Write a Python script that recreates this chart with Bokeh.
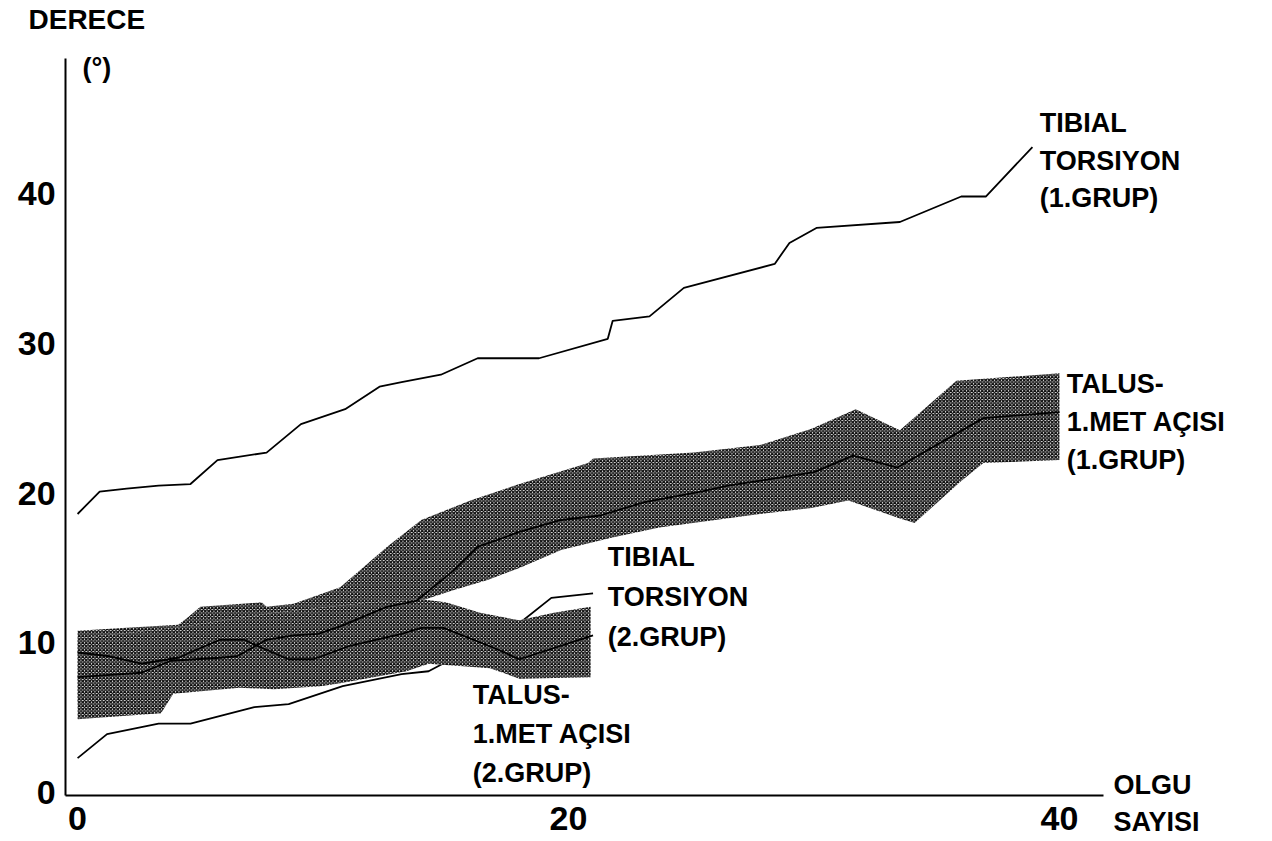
from bokeh.plotting import figure
from bokeh.models import Range1d, FixedTicker, Label
from bokeh.embed import file_html
from bokeh.resources import INLINE

# ---- data ----
# Tibial torsiyon, 1. grup
tt1_x = [0.0, 0.9, 2.0, 3.3, 4.6, 5.7, 7.7, 9.1, 10.9, 12.3, 13.2, 14.8, 16.3, 18.8,
         21.6, 21.8, 23.3, 24.7, 28.4, 29.0, 30.1, 33.5, 36.0, 37.0, 38.9]
tt1_y = [18.6, 20.1, 20.3, 20.5, 20.6, 22.2, 22.7, 24.6, 25.6, 27.1, 27.4, 27.9, 29.0, 29.0,
         30.3, 31.5, 31.8, 33.7, 35.3, 36.7, 37.7, 38.1, 39.8, 39.8, 43.1]

# Tibial torsiyon, 2. grup
tt2_x = [0.0, 1.2, 3.3, 4.6, 7.2, 8.6, 10.8, 13.2, 14.3, 18.0, 19.3, 21.0]
tt2_y = [2.3, 3.9, 4.6, 4.6, 5.7, 5.9, 7.1, 7.9, 8.1, 11.3, 13.0, 13.3]

# Talus-1.met acisi, 1. grup (mean and band)
ta1_x = [0.0, 2.6, 3.8, 5.8, 6.5, 7.7, 8.8, 9.8, 10.7, 12.6, 13.8, 15.3, 16.3, 18.0,
         19.7, 21.3, 23.1, 25.4, 26.5, 28.1, 30.0, 31.6, 33.4, 36.9, 40.0]
ta1_y = [7.7, 8.0, 8.8, 9.0, 9.1, 10.2, 10.5, 10.6, 11.1, 12.4, 12.8, 14.8, 16.4, 17.4,
         18.2, 18.5, 19.4, 20.1, 20.5, 20.9, 21.4, 22.5, 21.7, 25.0, 25.4]
ta1_hi_x = [0.0, 2.0, 4.1, 4.5, 5.0, 7.5, 7.7, 8.8, 10.7, 12.6, 14.0, 16.0, 18.0, 20.8,
            21.0, 25.1, 27.8, 29.9, 31.7, 33.5, 35.8, 40.0]
ta1_hi_y = [10.8, 11.0, 11.2, 11.7, 12.4, 12.7, 12.4, 12.6, 13.7, 16.4, 18.2, 19.5, 20.6, 22.0,
            22.3, 22.7, 23.2, 24.3, 25.6, 24.2, 27.5, 28.0]
ta1_lo_x = [0.0, 4.0, 8.0, 12.0, 14.0, 15.3, 16.7, 18.0, 19.7, 21.7, 23.7, 27.8, 29.9,
            31.4, 33.5, 34.1, 36.0, 36.9, 40.0]
ta1_lo_y = [6.0, 7.5, 9.5, 11.8, 12.8, 13.5, 14.2, 15.0, 16.2, 17.0, 17.7, 18.6, 19.0,
            19.5, 18.3, 18.0, 20.8, 22.0, 22.2]

# Talus-1.met acisi, 2. grup (mean and band)
ta2_x = [0.0, 1.3, 2.6, 4.1, 5.8, 6.8, 7.3, 8.6, 9.6, 11.1, 13.2, 14.0, 14.9, 16.9, 18.0, 21.0]
ta2_y = [9.35, 9.1, 8.6, 9.0, 10.2, 10.2, 9.8, 8.9, 8.9, 9.8, 10.6, 11.0, 11.0, 9.7, 8.9, 10.5]
ta2_hi_x = [0.0, 4.0, 8.0, 12.0, 14.0, 15.0, 16.4, 18.0, 19.4, 20.9]
ta2_hi_y = [10.3, 11.0, 12.0, 12.7, 12.9, 12.7, 12.0, 11.5, 12.0, 12.4]
ta2_lo_x = [0.0, 3.4, 3.9, 6.6, 8.0, 9.9, 10.7, 13.4, 14.3, 16.8, 18.0, 20.9]
ta2_lo_y = [4.9, 5.3, 6.6, 7.0, 6.9, 7.1, 7.3, 8.1, 8.6, 8.3, 7.6, 7.7]

x_ticks = [0, 20, 40]
y_ticks = [0, 10, 20, 30, 40]

# series labels (text lines)
lab_tt1 = ["TIBIAL", "TORSIYON", "(1.GRUP)"]
lab_ta1 = ["TALUS-", "1.MET AÇISI", "(1.GRUP)"]
lab_tt2 = ["TIBIAL", "TORSIYON", "(2.GRUP)"]
lab_ta2 = ["TALUS-", "1.MET AÇISI", "(2.GRUP)"]
x_title = ["OLGU", "SAYISI"]
y_title = "DERECE"
y_unit = "(°)"

# axis extents (data units)
X_AX = (-0.49, 41.79)
Y_AX = (-0.2, 49.0)

# ---- figure ----
FONT = "Liberation Sans"
p = figure(width=1272, height=841,
           x_range=Range1d(-3.14, 48.68), y_range=Range1d(-3.27, 52.89),
           output_backend="svg", toolbar_location=None,
           min_border_left=0, min_border_right=0,
           min_border_top=0, min_border_bottom=0)
p.xgrid.visible = False
p.ygrid.visible = False
p.outline_line_color = None
p.background_fill_color = "white"
p.border_fill_color = "white"

for ax in (p.xaxis[0], p.yaxis[0]):
    ax.axis_line_width = 2
    ax.axis_line_color = "black"
    ax.major_tick_in = 0
    ax.major_tick_out = 0
    ax.minor_tick_in = 0
    ax.minor_tick_out = 0
    ax.major_label_text_font = FONT
    ax.major_label_text_font_style = "bold"
    ax.major_label_text_font_size = "34px"
    ax.major_label_text_color = "black"
p.xaxis[0].ticker = FixedTicker(ticks=x_ticks)
p.yaxis[0].ticker = FixedTicker(ticks=y_ticks)
p.xaxis[0].bounds = X_AX
p.yaxis[0].bounds = Y_AX
p.xaxis[0].fixed_location = Y_AX[0]
p.yaxis[0].fixed_location = X_AX[0]
p.xaxis[0].major_label_standoff = 11
p.yaxis[0].major_label_standoff = 10

band_style = dict(fill_color="white", line_alpha=0, hatch_pattern="x",
                  hatch_color="#0d0d0d", hatch_scale=3.5, hatch_weight=1.4)

# tibial torsion group 2 passes beneath the shaded bands
p.line(tt2_x, tt2_y, line_color="black", line_width=1.8)

p.patch(ta1_hi_x + ta1_lo_x[::-1], ta1_hi_y + ta1_lo_y[::-1], **band_style)
p.patch(ta2_hi_x + ta2_lo_x[::-1], ta2_hi_y + ta2_lo_y[::-1], **band_style)

p.line(ta1_x, ta1_y, line_color="black", line_width=1.8)
p.line(ta2_x, ta2_y, line_color="black", line_width=1.8)
p.line(tt1_x, tt1_y, line_color="black", line_width=1.8)


def add_lines(lines, x, y0, step, size="27px"):
    for i, t in enumerate(lines):
        p.add_layout(Label(x=x, y=y0 - i * step, text=t, text_font=FONT,
                           text_font_style="bold", text_font_size=size,
                           text_color="black", text_align="left",
                           text_baseline="middle"))


add_lines(lab_tt1, 39.2, 44.7, 2.5)
add_lines(lab_ta1, 40.3, 27.3, 2.55)
add_lines(lab_tt2, 21.6, 15.7, 2.65)
add_lines(lab_ta2, 16.1, 6.5, 2.6)
add_lines(x_title, 42.2, 0.5, 2.5)
add_lines([y_title], -2.0, 51.6, 0, size="28px")
add_lines([y_unit], 0.2, 48.4, 0, size="27px")

open("out.html", "w").write(file_html(p, INLINE))
